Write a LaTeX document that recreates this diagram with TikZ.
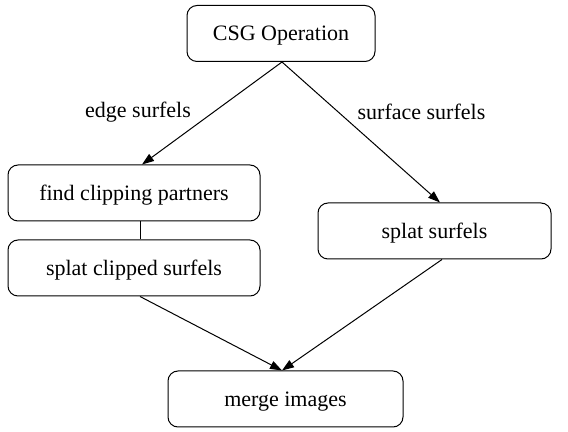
\documentclass[tikz,border=0pt]{standalone}
\usepackage{fontspec}
\setmainfont{Liberation Serif}
\usetikzlibrary{arrows.meta,positioning}

\tikzset{
	stage/.style={draw, rounded corners=5pt, minimum height=28pt, inner sep=2pt, text depth=0pt, font=\fontsize{11}{13}\selectfont},
	flow/.style={-{Triangle[length=6pt,width=4.2pt]}},
	edgelabel/.style={font=\fontsize{11}{13}\selectfont}
}

\begin{document}
\begin{tikzpicture}[x=0.5pt,y=-0.5pt,line width=0.5pt]
	\useasboundingbox (0,0) rectangle (568,432);
	\node[stage, minimum width=94pt] (csg) at (281,33.5) {CSG Operation};
	\node[stage, minimum width=126pt] (find) at (134,193) {find clipping partners};
	\node[stage, minimum width=126pt] (clip) at (134,268) {splat clipped surfels};
	\node[stage, minimum width=116.5pt] (splat) at (434.5,231) {splat surfels};
	\node[stage, minimum width=117.5pt] (merge) at (285.5,399) {merge images};
	\node[edgelabel] (lbedge) at (138,112) {edge surfels};
	\node[edgelabel] (lbsurf) at (421.5,112) {surface surfels};
	\draw[flow] ([xshift=0.5pt]csg.south) -- ([xshift=4pt]find.north);
	\draw[flow] ([xshift=0.5pt]csg.south) -- ([xshift=2.75pt]splat.north);
	\draw ([xshift=3pt]find.south) -- ([xshift=3pt]clip.north);
	\draw[flow] ([xshift=3pt]clip.south) -- ([xshift=-1.75pt]merge.north);
	\draw[flow] ([xshift=3.75pt]splat.south) -- ([xshift=-1.75pt]merge.north);
\end{tikzpicture}
\end{document}
